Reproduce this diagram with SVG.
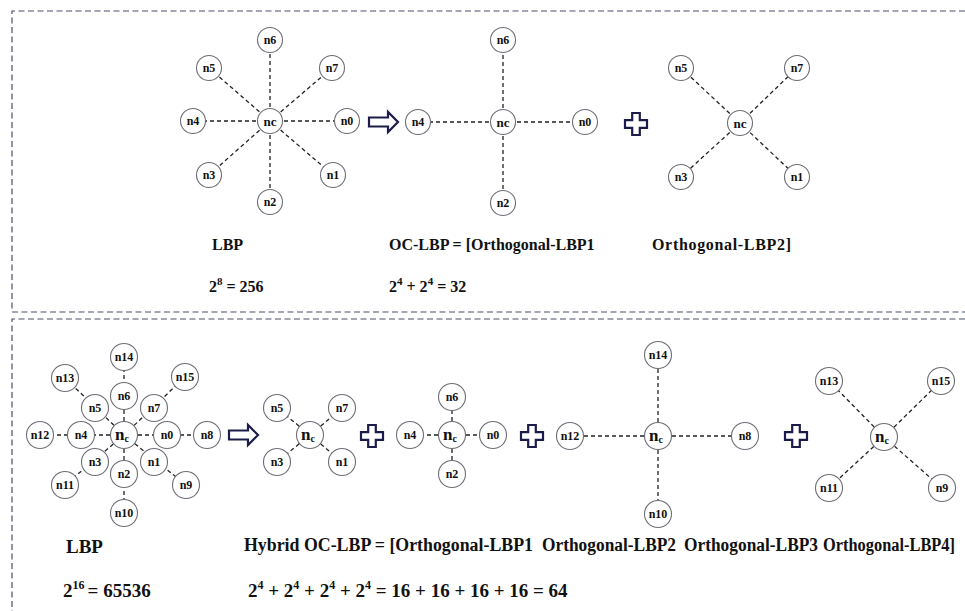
<svg xmlns="http://www.w3.org/2000/svg" width="965" height="611" viewBox="0 0 965 611">
  <style>
    .frame { fill: none; stroke: #4b4f6b; stroke-width: 1.2; stroke-dasharray: 6 3.5; }
    .link { stroke: #222; stroke-width: 1.3; stroke-dasharray: 4 3; fill: none; }
    .node circle { fill: #fff; stroke: #6e6e78; stroke-width: 1.1; }
    .node text { font-family: "Liberation Serif", "Times New Roman", serif; font-weight: bold; font-size: 12px; fill: #111; text-anchor: middle; dominant-baseline: central; }
    .node text.ctr { font-size: 13px; }
    .node text.big { font-size: 17px; }
    .op { fill: #fff; stroke: #1c1c4a; stroke-width: 2.2; stroke-linejoin: miter; }
    .lbl { font-family: "Liberation Serif", "Times New Roman", serif; font-weight: bold; font-size: 16px; fill: #111; }
    .lbl2 { font-family: "Liberation Serif", "Times New Roman", serif; font-weight: bold; font-size: 19px; fill: #111; }
    .lbl3 { font-family: "Liberation Serif", "Times New Roman", serif; font-weight: bold; font-size: 18px; fill: #111; }
  </style>
  <defs>
    <path id="arrow" d="M0,-4.5 H19 V-10 L29,0 L19,10 V4.5 H0 Z"/>
    <path id="plus" d="M-3.8,-11 H3.8 V-3.8 H11 V3.8 H3.8 V11 H-3.8 V3.8 H-11 V-3.8 H-3.8 Z"/>
  </defs>

  <!-- dashed frames -->
  <g id="frames">
    <path class="frame" d="M965,11 H12 V312 H965"/>
    <path class="frame" d="M965,319 H12 V611"/>
  </g>

  <!-- connectors -->
  <g id="connectors">
    <!-- top: full 8-neighbour LBP -->
    <path class="link" d="M270,121 L270,40 M270,121 L209,68 M270,121 L332,68 M270,121 L193,121 M270,121 L347,121 M270,121 L209,175 M270,121 L333,175 M270,121 L270,202"/>
    <!-- top: orthogonal set 1 -->
    <path class="link" d="M503,122 L503,40 M503,122 L418,122 M503,122 L585,122 M503,122 L503,203"/>
    <!-- top: orthogonal set 2 -->
    <path class="link" d="M740,123 L681,68 M740,123 L797,68 M740,123 L681,177 M740,123 L797,177"/>
    <!-- bottom: 16-neighbour LBP -->
    <path class="link" d="M124,435 L124,357 M124,435 L65,378 M124,435 L185,377 M124,435 L40,435 M124,435 L207,435 M124,435 L65,485 M124,435 L186,485 M124,435 L124,513"/>
    <!-- bottom: orthogonal set 1 -->
    <path class="link" d="M310,435 L277,408 M310,435 L342,408 M310,435 L277,462 M310,435 L342,462"/>
    <!-- bottom: orthogonal set 2 -->
    <path class="link" d="M452,435 L452,397 M452,435 L410,435 M452,435 L493,435 M452,435 L452,474"/>
    <!-- bottom: orthogonal set 3 -->
    <path class="link" d="M658,436 L658,355 M658,436 L570,436 M658,436 L745,436 M658,436 L658,514"/>
    <!-- bottom: orthogonal set 4 -->
    <path class="link" d="M884,437 L829,381 M884,437 L941,381 M884,437 L829,488 M884,437 L942,488"/>
  </g>

  <!-- operators -->
  <g id="operators">
    <use href="#arrow" class="op" x="369" y="122"/>
    <use href="#plus" class="op" x="636" y="124"/>
    <use href="#arrow" class="op" x="229" y="435"/>
    <use href="#plus" class="op" x="372" y="436"/>
    <use href="#plus" class="op" x="532" y="436"/>
    <use href="#plus" class="op" x="796" y="436"/>
  </g>

  <!-- top: LBP neighbourhood -->
  <g id="t1-n6" class="node"><circle cx="270" cy="40" r="12.5"/><text x="270" y="40">n6</text></g>
  <g id="t1-n5" class="node"><circle cx="209" cy="68" r="12.5"/><text x="209" y="68">n5</text></g>
  <g id="t1-n7" class="node"><circle cx="332" cy="68" r="12.5"/><text x="332" y="68">n7</text></g>
  <g id="t1-n4" class="node"><circle cx="193" cy="121" r="12.5"/><text x="193" y="121">n4</text></g>
  <g id="t1-nc" class="node"><circle cx="270" cy="121" r="12.5"/><text class="ctr" x="270" y="121">nc</text></g>
  <g id="t1-n0" class="node"><circle cx="347" cy="121" r="12.5"/><text x="347" y="121">n0</text></g>
  <g id="t1-n3" class="node"><circle cx="209" cy="175" r="12.5"/><text x="209" y="175">n3</text></g>
  <g id="t1-n1" class="node"><circle cx="333" cy="175" r="12.5"/><text x="333" y="175">n1</text></g>
  <g id="t1-n2" class="node"><circle cx="270" cy="202" r="12.5"/><text x="270" y="202">n2</text></g>

  <!-- top: orthogonal LBP1 -->
  <g id="t2-n6" class="node"><circle cx="503" cy="40" r="12.5"/><text x="503" y="40">n6</text></g>
  <g id="t2-n4" class="node"><circle cx="418" cy="122" r="12.5"/><text x="418" y="122">n4</text></g>
  <g id="t2-nc" class="node"><circle cx="503" cy="122" r="12.5"/><text class="ctr" x="503" y="122">nc</text></g>
  <g id="t2-n0" class="node"><circle cx="585" cy="122" r="12.5"/><text x="585" y="122">n0</text></g>
  <g id="t2-n2" class="node"><circle cx="503" cy="203" r="12.5"/><text x="503" y="203">n2</text></g>

  <!-- top: orthogonal LBP2 -->
  <g id="t3-n5" class="node"><circle cx="681" cy="68" r="12.5"/><text x="681" y="68">n5</text></g>
  <g id="t3-n7" class="node"><circle cx="797" cy="68" r="12.5"/><text x="797" y="68">n7</text></g>
  <g id="t3-nc" class="node"><circle cx="740" cy="123" r="12.5"/><text class="ctr" x="740" y="123">nc</text></g>
  <g id="t3-n3" class="node"><circle cx="681" cy="177" r="12.5"/><text x="681" y="177">n3</text></g>
  <g id="t3-n1" class="node"><circle cx="797" cy="177" r="12.5"/><text x="797" y="177">n1</text></g>

  <!-- bottom: 16-neighbour LBP -->
  <g id="b1-n14" class="node"><circle cx="124" cy="357" r="13.5"/><text x="124" y="357">n14</text></g>
  <g id="b1-n13" class="node"><circle cx="65" cy="378" r="13.5"/><text x="65" y="378">n13</text></g>
  <g id="b1-n15" class="node"><circle cx="185" cy="377" r="13.5"/><text x="185" y="377">n15</text></g>
  <g id="b1-n6" class="node"><circle cx="124" cy="396" r="13.5"/><text x="124" y="396">n6</text></g>
  <g id="b1-n5" class="node"><circle cx="95" cy="408" r="13.5"/><text x="95" y="408">n5</text></g>
  <g id="b1-n7" class="node"><circle cx="154" cy="408" r="13.5"/><text x="154" y="408">n7</text></g>
  <g id="b1-n12" class="node"><circle cx="40" cy="435" r="13.5"/><text x="40" y="435">n12</text></g>
  <g id="b1-n4" class="node"><circle cx="81" cy="435" r="13.5"/><text x="81" y="435">n4</text></g>
  <g id="b1-nc" class="node"><circle cx="124" cy="435" r="13.5"/><text class="big" x="122" y="434">n<tspan font-size="10" dy="4">c</tspan></text></g>
  <g id="b1-n0" class="node"><circle cx="167" cy="435" r="13.5"/><text x="167" y="435">n0</text></g>
  <g id="b1-n8" class="node"><circle cx="207" cy="435" r="13.5"/><text x="207" y="435">n8</text></g>
  <g id="b1-n3" class="node"><circle cx="95" cy="462" r="13.5"/><text x="95" y="462">n3</text></g>
  <g id="b1-n1" class="node"><circle cx="154" cy="462" r="13.5"/><text x="154" y="462">n1</text></g>
  <g id="b1-n2" class="node"><circle cx="124" cy="474" r="13.5"/><text x="124" y="474">n2</text></g>
  <g id="b1-n11" class="node"><circle cx="65" cy="485" r="13.5"/><text x="65" y="485">n11</text></g>
  <g id="b1-n9" class="node"><circle cx="186" cy="485" r="13.5"/><text x="186" y="485">n9</text></g>
  <g id="b1-n10" class="node"><circle cx="124" cy="513" r="13.5"/><text x="124" y="513">n10</text></g>

  <!-- bottom: orthogonal LBP1 -->
  <g id="b2-n5" class="node"><circle cx="277" cy="408" r="13.5"/><text x="277" y="408">n5</text></g>
  <g id="b2-n7" class="node"><circle cx="342" cy="408" r="13.5"/><text x="342" y="408">n7</text></g>
  <g id="b2-nc" class="node"><circle cx="310" cy="435" r="13.5"/><text class="big" x="308" y="434">n<tspan font-size="10" dy="4">c</tspan></text></g>
  <g id="b2-n3" class="node"><circle cx="277" cy="462" r="13.5"/><text x="277" y="462">n3</text></g>
  <g id="b2-n1" class="node"><circle cx="342" cy="462" r="13.5"/><text x="342" y="462">n1</text></g>

  <!-- bottom: orthogonal LBP2 -->
  <g id="b3-n6" class="node"><circle cx="452" cy="397" r="13.5"/><text x="452" y="397">n6</text></g>
  <g id="b3-n4" class="node"><circle cx="410" cy="435" r="13.5"/><text x="410" y="435">n4</text></g>
  <g id="b3-nc" class="node"><circle cx="452" cy="435" r="13.5"/><text class="big" x="450" y="434">n<tspan font-size="10" dy="4">c</tspan></text></g>
  <g id="b3-n0" class="node"><circle cx="493" cy="435" r="13.5"/><text x="493" y="435">n0</text></g>
  <g id="b3-n2" class="node"><circle cx="452" cy="474" r="13.5"/><text x="452" y="474">n2</text></g>

  <!-- bottom: orthogonal LBP3 -->
  <g id="b4-n14" class="node"><circle cx="658" cy="355" r="13.5"/><text x="658" y="355">n14</text></g>
  <g id="b4-n12" class="node"><circle cx="570" cy="436" r="13.5"/><text x="570" y="436">n12</text></g>
  <g id="b4-nc" class="node"><circle cx="658" cy="436" r="13.5"/><text class="big" x="656" y="435">n<tspan font-size="10" dy="4">c</tspan></text></g>
  <g id="b4-n8" class="node"><circle cx="745" cy="436" r="13.5"/><text x="745" y="436">n8</text></g>
  <g id="b4-n10" class="node"><circle cx="658" cy="514" r="13.5"/><text x="658" y="514">n10</text></g>

  <!-- bottom: orthogonal LBP4 -->
  <g id="b5-n13" class="node"><circle cx="829" cy="381" r="13.5"/><text x="829" y="381">n13</text></g>
  <g id="b5-n15" class="node"><circle cx="941" cy="381" r="13.5"/><text x="941" y="381">n15</text></g>
  <g id="b5-nc" class="node"><circle cx="884" cy="437" r="13.5"/><text class="big" x="882" y="436">n<tspan font-size="10" dy="4">c</tspan></text></g>
  <g id="b5-n11" class="node"><circle cx="829" cy="488" r="13.5"/><text x="829" y="488">n11</text></g>
  <g id="b5-n9" class="node"><circle cx="942" cy="488" r="13.5"/><text x="942" y="488">n9</text></g>

  <!-- captions -->
  <g id="captions">
    <text class="lbl" x="212" y="250">LBP</text>
    <text class="lbl" x="389" y="250">OC-LBP = [Orthogonal-LBP1</text>
    <text class="lbl" x="652" y="250" textLength="139">Orthogonal-LBP2]</text>
    <text class="lbl" x="209" y="292">2<tspan font-size="11" dy="-7">8</tspan><tspan dy="7"> = 256</tspan></text>
    <text class="lbl" x="389" y="292">2<tspan font-size="11" dy="-7">4</tspan><tspan dy="7"> + 2</tspan><tspan font-size="11" dy="-7">4</tspan><tspan dy="7"> = 32</tspan></text>

    <text class="lbl2" x="66" y="553">LBP</text>
    <text class="lbl3" x="244" y="551" textLength="289" lengthAdjust="spacingAndGlyphs">Hybrid OC-LBP = [Orthogonal-LBP1</text>
    <text class="lbl3" x="542" y="551" textLength="134" lengthAdjust="spacingAndGlyphs">Orthogonal-LBP2</text>
    <text class="lbl3" x="684" y="551" textLength="134" lengthAdjust="spacingAndGlyphs">Orthogonal-LBP3</text>
    <text class="lbl3" x="823" y="551" font-size="17" textLength="132" lengthAdjust="spacingAndGlyphs">Orthogonal-LBP4]</text>
    <text class="lbl2" x="63" y="597">2<tspan font-size="12" dy="-8">16</tspan><tspan dy="8" dx="3">=</tspan><tspan dx="5">65536</tspan></text>
    <text class="lbl2" x="248" y="597">2<tspan font-size="12" dy="-8">4</tspan><tspan dy="8"> + 2</tspan><tspan font-size="12" dy="-8">4</tspan><tspan dy="8"> + 2</tspan><tspan font-size="12" dy="-8">4</tspan><tspan dy="8"> + 2</tspan><tspan font-size="12" dy="-8">4</tspan><tspan dy="8"> = 16 + 16 + 16 + 16 = 64</tspan></text>
  </g>
</svg>
